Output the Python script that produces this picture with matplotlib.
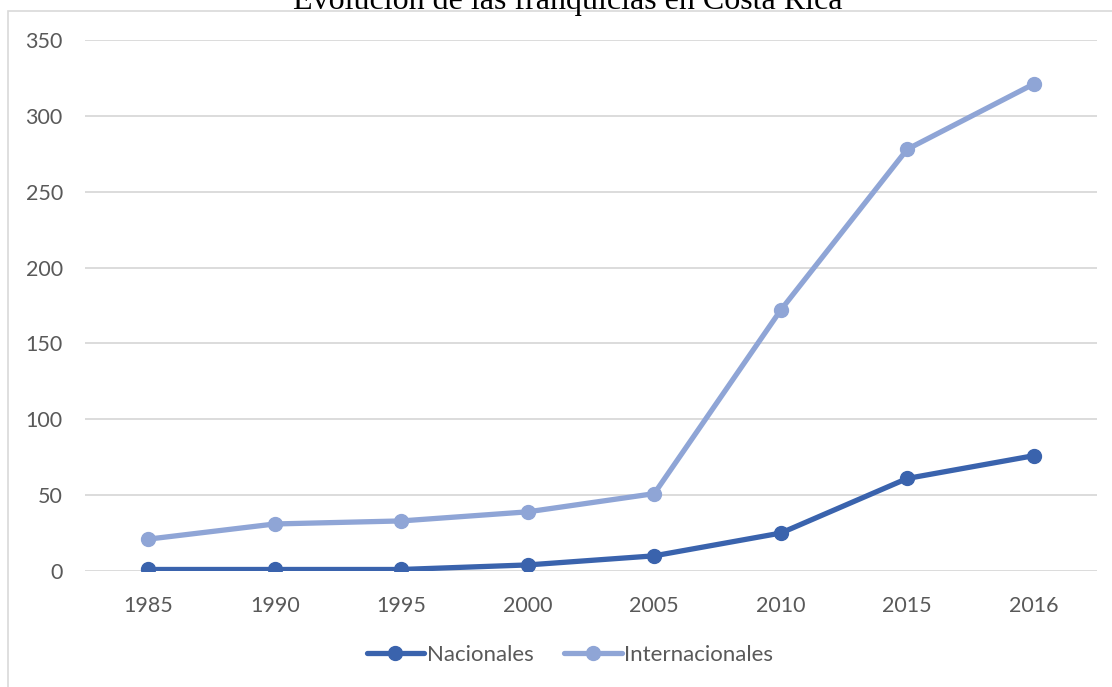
import matplotlib
matplotlib.use("Agg")
import matplotlib.pyplot as plt
from matplotlib.patches import Rectangle

# Franchise counts in Costa Rica by year
years = ["1985", "1990", "1995", "2000", "2005", "2010", "2015", "2016"]
nacionales = [1, 1, 1, 4, 10, 25, 61, 76]
internacionales = [21, 31, 33, 39, 51, 172, 278, 321]
y_ticks = [0, 50, 100, 150, 200, 250, 300, 350]

W, H = 1112, 687
fig = plt.figure(figsize=(W / 100, H / 100), dpi=100)
fig.patch.set_facecolor("white")

# Chart frame border (open at right and bottom edges)
fig.patches.append(Rectangle((8 / W, -0.05), 1.2, 1 - 11 / H + 0.05,
                             transform=fig.transFigure, fill=False,
                             edgecolor="#d9d9d9", linewidth=1.2))

ax = fig.add_axes([85 / W, (H - 571) / H, (1097 - 85) / W, (571 - 40) / H])

dark = "#3a63ad"
light = "#8fa5d6"
tick_color = "#595959"
font = "Lato"
fs = 15.5

x = list(range(len(years)))
ax.plot(x, nacionales, color=dark, lw=3.8, marker="o", ms=10,
        solid_capstyle="round", label="Nacionales", zorder=3)
ax.plot(x, internacionales, color=light, lw=3.8, marker="o", ms=10,
        solid_capstyle="round", label="Internacionales", zorder=3)

ax.set_xlim(-0.5, len(years) - 0.5)
ax.set_ylim(0, 350)
ax.set_xticks(x)
ax.set_xticklabels(years)
ax.set_yticks(y_ticks)
ax.set_yticklabels([str(v) for v in y_ticks])

for s in ax.spines.values():
    s.set_visible(False)
ax.grid(axis="y", color="#d9d9d9", lw=1.3, zorder=0)
ax.set_axisbelow(True)
ax.tick_params(axis="both", length=0, colors=tick_color, labelsize=fs)
ax.tick_params(axis="y", pad=16)
ax.tick_params(axis="x", pad=18)
for lab in ax.get_xticklabels() + ax.get_yticklabels():
    lab.set_fontfamily(font)
    lab.set_color(tick_color)

fig.text(568 / W, 1 - 9 / H, "Evolución de las franquicias en Costa Rica",
         ha="center", va="baseline", fontsize=23,
         family="Liberation Serif", color="black")

leg = fig.legend(loc="center", bbox_to_anchor=(570 / W, 1 - 655 / H),
                 ncol=2, frameon=False, handlelength=2.6, handletextpad=0.1,
                 columnspacing=1.4, prop={"family": font, "size": 16})
for t in leg.get_texts():
    t.set_color(tick_color)

fig.savefig("out.png", dpi=100, facecolor="white")
